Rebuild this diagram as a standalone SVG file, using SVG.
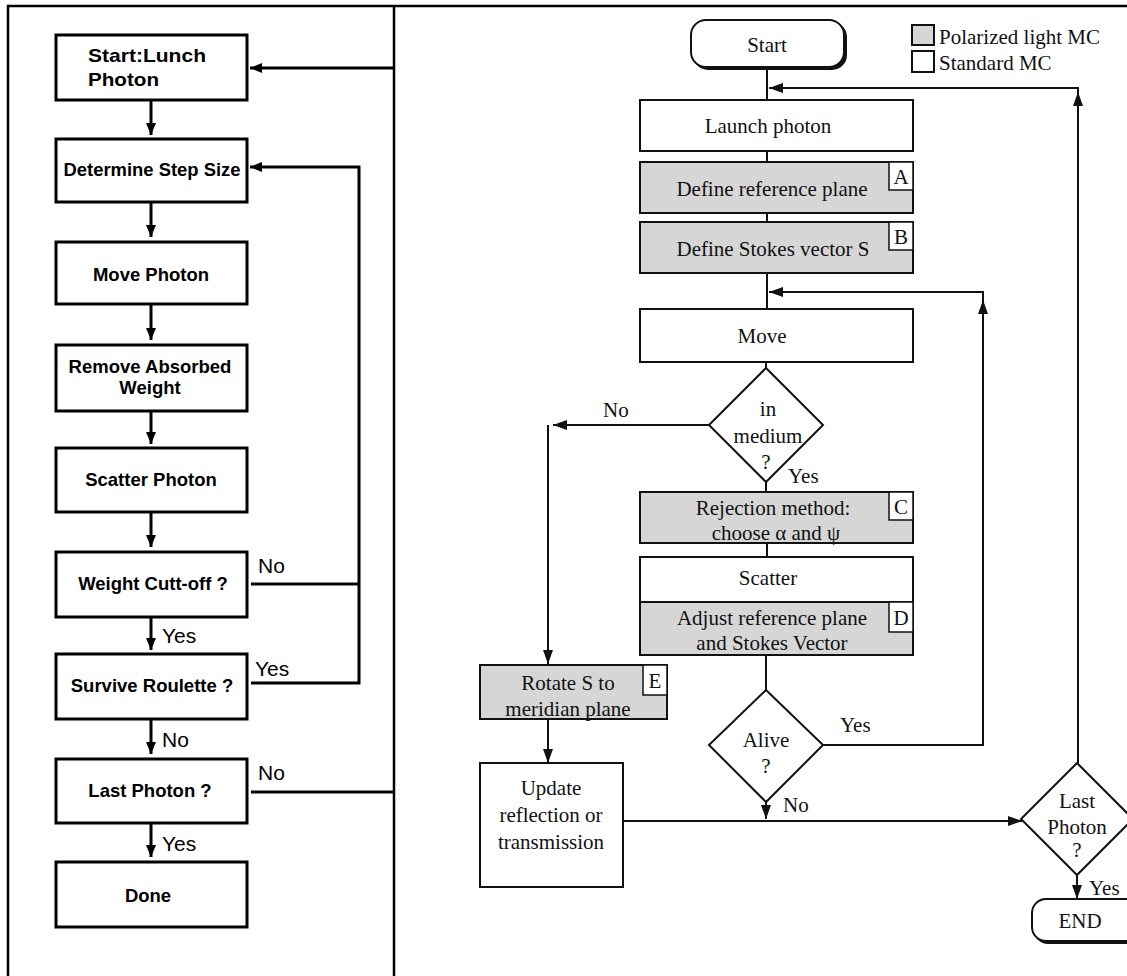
<svg xmlns="http://www.w3.org/2000/svg" width="1127" height="976" viewBox="0 0 1127 976">
<style>
.frame{stroke:#000;stroke-width:2.5;fill:none}
.lb{fill:#fff;stroke:#000;stroke-width:3}
.lt{font-family:"Liberation Sans",Arial,sans-serif;font-weight:bold;font-size:18.5px;fill:#000;text-anchor:middle}
.ll{font-family:"Liberation Sans",Arial,sans-serif;font-size:21px;fill:#000}
.lc{stroke:#000;stroke-width:3;fill:none}
.rb{fill:#fff;stroke:#111;stroke-width:2}
.rg{fill:#d6d6d6;stroke:#111;stroke-width:2}
.tag{fill:#fff;stroke:#111;stroke-width:1.5}
.rt{font-family:"Liberation Serif","Times New Roman",serif;font-size:21px;fill:#111;text-anchor:middle}
.rl{font-family:"Liberation Serif","Times New Roman",serif;font-size:21px;fill:#111}
.rc{stroke:#111;stroke-width:2;fill:none}
.sh{fill:#111}
</style>
<defs>
<marker id="la" viewBox="0 0 12 10" refX="12" refY="5" markerWidth="12" markerHeight="10" markerUnits="userSpaceOnUse" orient="auto"><path d="M0,0 L12,5 L0,10 Z" fill="#000"/></marker>
<marker id="ra" viewBox="0 0 14 10" refX="14" refY="5" markerWidth="14" markerHeight="10" markerUnits="userSpaceOnUse" orient="auto"><path d="M0,0 L14,5 L0,10 Z" fill="#111"/></marker>
</defs>
<rect width="1127" height="976" fill="#fff"/>
<g id="frame">
<path class="frame" d="M1127,6 H8 V976 M394,6 V976"/>
</g>
<g id="left-connectors">
<path class="lc" marker-end="url(#la)" d="M151,100 V135"/>
<path class="lc" marker-end="url(#la)" d="M151,202 V237"/>
<path class="lc" marker-end="url(#la)" d="M151,304 V340"/>
<path class="lc" marker-end="url(#la)" d="M151,411 V444"/>
<path class="lc" marker-end="url(#la)" d="M151,512 V547"/>
<path class="lc" marker-end="url(#la)" d="M151,617 V650"/>
<path class="lc" marker-end="url(#la)" d="M151,719 V754"/>
<path class="lc" marker-end="url(#la)" d="M151,823 V857"/>
<path class="lc" marker-end="url(#la)" d="M394,68 H250"/>
<path class="lc" marker-end="url(#la)" d="M251,584 H359 M251,683 H359 V167 H250"/>
<path class="lc" d="M251,792 H394"/>
<text class="ll" x="258" y="573">No</text>
<text class="ll" x="162" y="643">Yes</text>
<text class="ll" x="255" y="676">Yes</text>
<text class="ll" x="162" y="747">No</text>
<text class="ll" x="258" y="780">No</text>
<text class="ll" x="162" y="851">Yes</text>
</g>
<g id="l-start"><rect class="lb" x="56" y="35" width="191" height="65"/><text class="lt" style="text-anchor:start" x="88" y="62" textLength="118" lengthAdjust="spacingAndGlyphs">Start:Lunch</text><text class="lt" style="text-anchor:start" x="88" y="86" textLength="71" lengthAdjust="spacingAndGlyphs">Photon</text></g>
<g id="l-step"><rect class="lb" x="56" y="139" width="191" height="63"/><text class="lt" x="152" y="176" textLength="177" lengthAdjust="spacingAndGlyphs">Determine Step Size</text></g>
<g id="l-move"><rect class="lb" x="56" y="242" width="191" height="62"/><text class="lt" x="151" y="281">Move Photon</text></g>
<g id="l-absorb"><rect class="lb" x="56" y="345" width="191" height="66"/><text class="lt" x="150" y="373">Remove Absorbed</text><text class="lt" x="150" y="394">Weight</text></g>
<g id="l-scatter"><rect class="lb" x="56" y="448" width="191" height="64"/><text class="lt" x="151" y="486">Scatter Photon</text></g>
<g id="l-weight"><rect class="lb" x="56" y="552" width="191" height="65"/><text class="lt" x="153" y="590">Weight Cutt-off ?</text></g>
<g id="l-roulette"><rect class="lb" x="56" y="654" width="191" height="65"/><text class="lt" x="152" y="692">Survive Roulette ?</text></g>
<g id="l-last"><rect class="lb" x="56" y="759" width="191" height="64"/><text class="lt" x="150" y="797">Last Photon ?</text></g>
<g id="l-done"><rect class="lb" x="56" y="862" width="191" height="65"/><text class="lt" x="148" y="902">Done</text></g>

<g id="legend">
<rect class="rg" x="912" y="25" width="22" height="20"/>
<rect class="rb" x="912" y="51" width="22" height="21"/>
<text class="rl" x="939" y="44">Polarized light MC</text>
<text class="rl" x="939" y="70">Standard MC</text>
</g>
<g id="right-connectors">
<path class="rc" d="M767,68 V100 M767,151 V162 M767,213 V222 M767,273 V309 M766,362 V368 M766,482 V492 M767,543 V557 M766,655 V690"/>
<path class="rc" marker-end="url(#ra)" d="M1078,763 V92"/>
<path class="rc" marker-end="url(#ra)" d="M1078,93 V88 H769"/>
<path class="rc" marker-end="url(#ra)" d="M823,745 H983 V300"/>
<path class="rc" marker-end="url(#ra)" d="M983,301 V292 H769"/>
<path class="rc" marker-end="url(#ra)" d="M709,425 H553"/>
<path class="rc" marker-end="url(#ra)" d="M548,425 V664"/>
<path class="rc" marker-end="url(#ra)" d="M548,719 V763"/>
<path class="rc" marker-end="url(#ra)" d="M766,802 V819"/>
<path class="rc" marker-end="url(#ra)" d="M623,821 H1022"/>
<path class="rc" marker-end="url(#ra)" d="M1077,875 V899"/>
<text class="rl" x="603" y="417">No</text>
<text class="rl" x="788" y="483">Yes</text>
<text class="rl" x="840" y="732">Yes</text>
<text class="rl" x="783" y="812">No</text>
<text class="rl" x="1089" y="895">Yes</text>
</g>
<g id="r-start"><rect class="sh" x="693" y="22" width="154" height="48" rx="15"/><rect class="rb" x="691" y="20" width="153" height="47" rx="15"/><text class="rt" x="767" y="52">Start</text></g>
<g id="r-launch"><rect class="rb" x="640" y="100" width="273" height="51"/><text class="rt" x="768" y="133">Launch photon</text></g>
<g id="r-refplane"><rect class="rg" x="640" y="162" width="273" height="51"/><rect class="tag" x="889" y="162" width="24" height="28"/><text class="rt" x="901" y="184">A</text><text class="rt" x="772" y="196">Define reference plane</text></g>
<g id="r-stokes"><rect class="rg" x="640" y="222" width="273" height="51"/><rect class="tag" x="889" y="222" width="24" height="28"/><text class="rt" x="773" y="256">Define Stokes vector S</text><text class="rt" x="901" y="244">B</text></g>
<g id="r-move"><rect class="rb" x="640" y="309" width="273" height="53"/><text class="rt" x="762" y="343">Move</text></g>
<g id="r-medium"><path class="rb" d="M766,368 L823,425 L766,482 L709,425 Z"/><text class="rt" x="768" y="416">in</text><text class="rt" x="768" y="443">medium</text><text class="rt" x="766" y="469">?</text></g>
<g id="r-rejection"><rect class="rg" x="640" y="492" width="273" height="51"/><rect class="tag" x="889" y="492" width="24" height="28"/><text class="rt" x="901" y="514">C</text><text class="rt" x="773" y="515">Rejection method:</text><text class="rt" x="776" y="540">choose α and ψ</text></g>
<g id="r-scatter"><rect class="rb" x="640" y="557" width="273" height="98"/><rect class="rg" x="640" y="602" width="273" height="53"/><rect class="tag" x="889" y="602" width="24" height="30"/><text class="rt" x="901" y="625">D</text><text class="rt" x="768" y="585">Scatter</text><text class="rt" x="772" y="625">Adjust reference  plane</text><text class="rt" x="772" y="650">and Stokes Vector</text></g>
<g id="r-rotate"><rect class="rg" x="480" y="665" width="187" height="54"/><rect class="tag" x="643" y="665" width="24" height="30"/><text class="rt" x="655" y="688">E</text><text class="rt" x="568" y="690">Rotate S to</text><text class="rt" x="568" y="716">meridian plane</text></g>
<g id="r-alive"><path class="rb" d="M766,690 L823,745 L766,802 L709,745 Z"/><text class="rt" x="766" y="747">Alive</text><text class="rt" x="766" y="773">?</text></g>
<g id="r-update"><rect class="rb" x="480" y="763" width="143" height="124"/><text class="rt" x="551" y="795">Update</text><text class="rt" x="551" y="822">reflection or</text><text class="rt" x="551" y="849">transmission</text></g>
<g id="r-lastphoton"><path class="rb" d="M1077,763 L1133,819 L1077,875 L1021,819 Z"/><text class="rt" x="1077" y="808">Last</text><text class="rt" x="1077" y="834">Photon</text><text class="rt" x="1077" y="857">?</text></g>
<g id="r-end"><rect class="sh" x="1034" y="901" width="110" height="43" rx="14"/><rect class="rb" x="1032" y="899" width="110" height="42" rx="14"/><text class="rt" x="1080" y="928">END</text></g>
</svg>
